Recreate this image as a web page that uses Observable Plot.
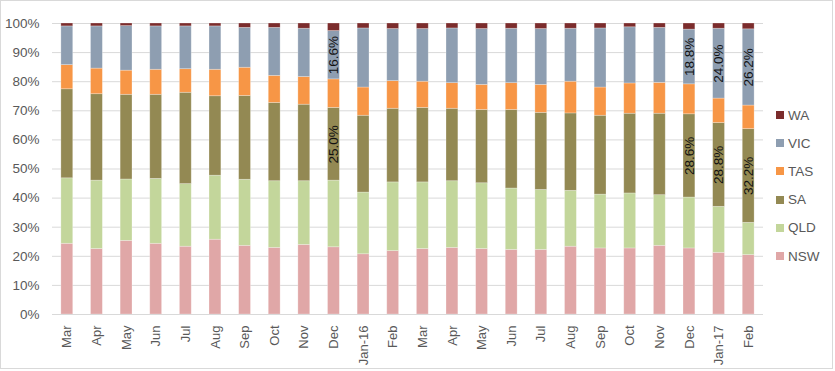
<!DOCTYPE html>
<html>
<head>
<meta charset="utf-8">
<script src="https://cdn.jsdelivr.net/npm/d3@7"></script>
<script src="https://cdn.jsdelivr.net/npm/@observablehq/plot@0.6"></script>
<style>
  html, body { margin: 0; padding: 0; background: #fff; }
  #wrap { position: relative; width: 835px; height: 371px; }
  #frame { position: absolute; left: 0; top: 0; width: 831px; height: 367px; border: 1px solid #d9d9d9; pointer-events: none; }
  #legend { position: absolute; left: 776px; top: 101px; font-family: "Liberation Sans", Arial, sans-serif; font-size: 13.5px; color: #595959; }
  .li { display: flex; align-items: center; height: 28.2px; }
  .sw { width: 8px; height: 8px; margin-right: 4px; }
</style>
</head>
<body>
<div id="wrap"><div id="chart"></div><div id="legend"></div><div id="frame"></div></div>
<script>
const months = ["Mar","Apr","May","Jun","Jul","Aug","Sep","Oct","Nov","Dec","Jan-16","Feb",
                "Mar","Apr","May","Jun","Jul","Aug","Sep","Oct","Nov","Dec","Jan-17","Feb"];
const series = ["NSW","QLD","SA","TAS","VIC","WA"];
const colors = ["#e0a7a7","#c3d69b","#938953","#f79646","#8e9eb1","#7b2c2c"];
const NSW = [24.3,22.5,25.3,24.3,23.3,25.7,23.6,22.9,23.9,23.1,20.7,21.8,22.5,22.9,22.5,22.2,22.2,23.3,22.7,22.7,23.6,22.7,21.2,20.4];
const QLD = [22.5,23.5,21.1,22.3,21.5,22.0,22.7,22.9,21.9,22.9,21.2,23.6,22.9,22.9,22.6,21.1,20.6,19.2,18.5,18.9,17.4,17.5,15.8,11.1];
const SA  = [30.6,29.7,29.1,28.9,31.4,27.3,28.8,26.9,26.3,25.0,26.4,25.3,25.6,24.9,25.2,27.0,26.5,26.6,27.1,27.4,28.0,28.6,28.8,32.2];
const TAS = [ 8.3, 8.8, 8.3, 8.6, 8.1, 9.1, 9.7, 9.3, 9.5, 9.8, 9.7, 9.5, 9.0, 8.8, 8.6, 9.2, 9.6,10.9, 9.7,10.4,10.6,10.3, 8.4, 8.1];
const VIC = [13.3,14.5,15.3,14.9,14.7,14.9,13.7,16.5,16.6,16.6,20.3,17.9,18.1,18.8,19.2,18.7,19.2,18.2,20.3,19.3,18.9,18.8,24.0,26.2];
const WA  = [ 1.0, 1.0, 0.9, 1.0, 1.0, 1.0, 1.5, 1.5, 1.8, 2.6, 1.7, 1.9, 1.9, 1.7, 1.9, 1.8, 1.9, 1.8, 1.7, 1.3, 1.5, 2.1, 1.8, 2.0];
const labelled = [
  {i: 9, s: "SA", t: "25.0%"}, {i: 9, s: "VIC", t: "16.6%"},
  {i: 21, s: "SA", t: "28.6%"}, {i: 21, s: "VIC", t: "18.8%"},
  {i: 22, s: "SA", t: "28.8%"}, {i: 22, s: "VIC", t: "24.0%"},
  {i: 23, s: "SA", t: "32.2%"}, {i: 23, s: "VIC", t: "26.2%"}
];

const cols = {NSW, QLD, SA, TAS, VIC, WA};
const rows = [];
months.forEach((m, i) => series.forEach(s => rows.push({i, s, v: cols[s][i]})));
const labelSet = new Map(labelled.map(d => [d.i + "|" + d.s, d.t]));

const font = '"Liberation Sans", Arial, sans-serif';
const chart = Plot.plot({
  width: 835, height: 371,
  marginLeft: 52, marginRight: 72, marginTop: 23, marginBottom: 57,
  style: {fontFamily: font, fontSize: "13px", color: "#595959", background: "transparent"},
  x: {type: "band", domain: d3.range(months.length), paddingInner: 0.6, paddingOuter: 0.3, round: false, label: null},
  y: {domain: [0, 1], label: null},
  color: {domain: series, range: colors},
  marks: [
    Plot.gridY(d3.range(0, 1.01, 0.1), {stroke: "#d9d9d9", strokeOpacity: 1, strokeWidth: 1}),
    Plot.barY(rows, Plot.stackY({offset: "normalize", order: series, x: "i", y: "v", z: "s", fill: "s", stroke: "#ffffff", strokeOpacity: 0.35, strokeWidth: 0.75})),
    Plot.text(rows, Plot.stackY({
      offset: "normalize", order: series, x: "i", y: "v", z: "s",
      text: d => labelSet.get(d.i + "|" + d.s) ?? null,
      rotate: -90, fill: "#111", fontSize: 13.5
    })),
    Plot.ruleY([0], {stroke: "#d9d9d9"}),
    Plot.axisY({ticks: d3.range(0, 1.01, 0.1), tickFormat: d => Math.round(d * 100) + "%", tickSize: 0, tickPadding: 13, fontSize: 13.5}),
    Plot.axisX({tickFormat: i => months[i], tickRotate: -90, tickSize: 0, tickPadding: 11, fontSize: 13})
  ]
});
document.getElementById("chart").appendChild(chart);

const legend = document.getElementById("legend");
series.slice().reverse().forEach(s => {
  const row = document.createElement("div");
  row.className = "li";
  const sw = document.createElement("div");
  sw.className = "sw";
  sw.style.background = colors[series.indexOf(s)];
  const tx = document.createElement("span");
  tx.textContent = s;
  row.appendChild(sw); row.appendChild(tx);
  legend.appendChild(row);
});
</script>
</body>
</html>
